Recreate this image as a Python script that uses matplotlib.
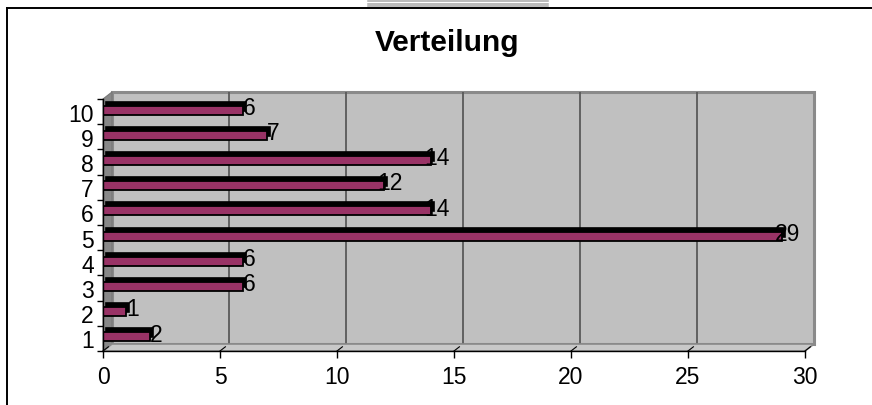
import matplotlib
matplotlib.use("Agg")
import matplotlib.pyplot as plt
from matplotlib.patches import Rectangle, Polygon
from matplotlib.lines import Line2D
from matplotlib.transforms import ScaledTranslation

plt.rcParams['font.family'] = ['Liberation Sans', 'DejaVu Sans']

# ---- data ----
categories = [1, 2, 3, 4, 5, 6, 7, 8, 9, 10]
values = [2, 1, 6, 6, 29, 14, 12, 14, 7, 6]
x_ticks = [0, 5, 10, 15, 20, 25, 30]
title = "Verteilung"

W, H = 872, 406
fig = plt.figure(figsize=(W / 100, H / 100), dpi=100)
ax_l, ax_b, ax_w, ax_h = 103, 54, 702, 252
ax = fig.add_axes([ax_l / W, ax_b / H, ax_w / W, ax_h / H])
ax.set_xlim(0, 30)
ax.set_ylim(0.5, 10.5)
ax.patch.set_visible(False)

FS = 16.5

# 3D depth offsets (pixels)
dx, dy = 9, 7
back = ax.transData + ScaledTranslation(dx / 100, dy / 100, fig.dpi_scale_trans)
fx, fy = dx / ax_w, dy / ax_h

# back wall
ax.add_patch(Rectangle((0, 0.5), 30, 10, transform=back, facecolor='#C0C0C0',
                       edgecolor='#8A8A8A', lw=2.2, zorder=0, clip_on=False))
ax.vlines(x_ticks[1:-1], 0.5, 10.5, transform=back, color='#5A5A5A', lw=1.3,
          zorder=0.5, clip_on=False)
# side wall
ax.add_patch(Polygon([(0, 0), (0, 1), (fx, 1 + fy), (fx, fy)], closed=True,
                     transform=ax.transAxes, facecolor='#888888', edgecolor='#777777',
                     lw=0.8, zorder=0.6, clip_on=False))
# floor
ax.add_patch(Polygon([(0, 0), (1, 0), (1 + fx, fy), (fx, fy)], closed=True,
                     transform=ax.transAxes, facecolor='#C8C8C8', edgecolor='#8A8A8A',
                     lw=1.2, zorder=0.6, clip_on=False))
for t in x_ticks:
    f = t / 30
    ax.plot([f, f + fx * 0.6], [0, fy * 0.6], transform=ax.transAxes, color='black',
            lw=0.8, zorder=0.7, clip_on=False)

# bars: depth (black) + front face (magenta)
bar_h = 0.36
ypos = [c + 0.06 for c in categories]
depth = ax.transData + ScaledTranslation(3 / 100, 4 / 100, fig.dpi_scale_trans)
ax.barh(ypos, values, height=bar_h, color='black', edgecolor='black', lw=1.2,
        transform=depth, zorder=2)
ax.barh(ypos, values, height=bar_h, color='#993366', edgecolor='black', lw=1.3,
        zorder=3)

# data labels
for c, v in zip(categories, values):
    ax.text(v + 0.27, c + 0.17, str(v), ha='center', va='center', fontsize=FS,
            color='black', zorder=4)

# axes styling
for s in ['top', 'right']:
    ax.spines[s].set_visible(False)
for s in ['left', 'bottom']:
    ax.spines[s].set_color('black')
    ax.spines[s].set_linewidth(1.0)
    ax.spines[s].set_zorder(5)

ax.set_xticks(x_ticks)
ax.set_xticklabels([str(t) for t in x_ticks], fontsize=FS)
ax.tick_params(axis='x', length=5, width=1, pad=5, direction='out')
ax.set_yticks(categories)
ax.set_yticklabels([str(c) for c in categories], fontsize=FS)
ax.set_yticks([c - 0.5 for c in categories] + [10.5], minor=True)
ax.tick_params(axis='y', which='major', length=0, pad=6.5)
ax.tick_params(axis='y', which='minor', length=4, width=1, direction='out')
ax.tick_params(axis='x', which='minor', length=0)

# title
fig.text(447 / W, 1 - 51 / H, title, ha='center', va='baseline', fontsize=21.5,
         fontweight='bold')

# chart frame (top and left edges)
fig.add_artist(Line2D([7 / W, 1], [1 - 9 / H, 1 - 9 / H], color='black', lw=1.4))
fig.add_artist(Line2D([7 / W, 7 / W], [0, 1 - 9 / H], color='black', lw=1.4))
# striped decoration at top
for yy in [1.5, 4.5, 7.2]:
    fig.add_artist(Line2D([368 / W, 548 / W], [1 - yy / H, 1 - yy / H],
                          color='#A8A8A8', lw=1.1))

fig.savefig('out.png', dpi=100)
